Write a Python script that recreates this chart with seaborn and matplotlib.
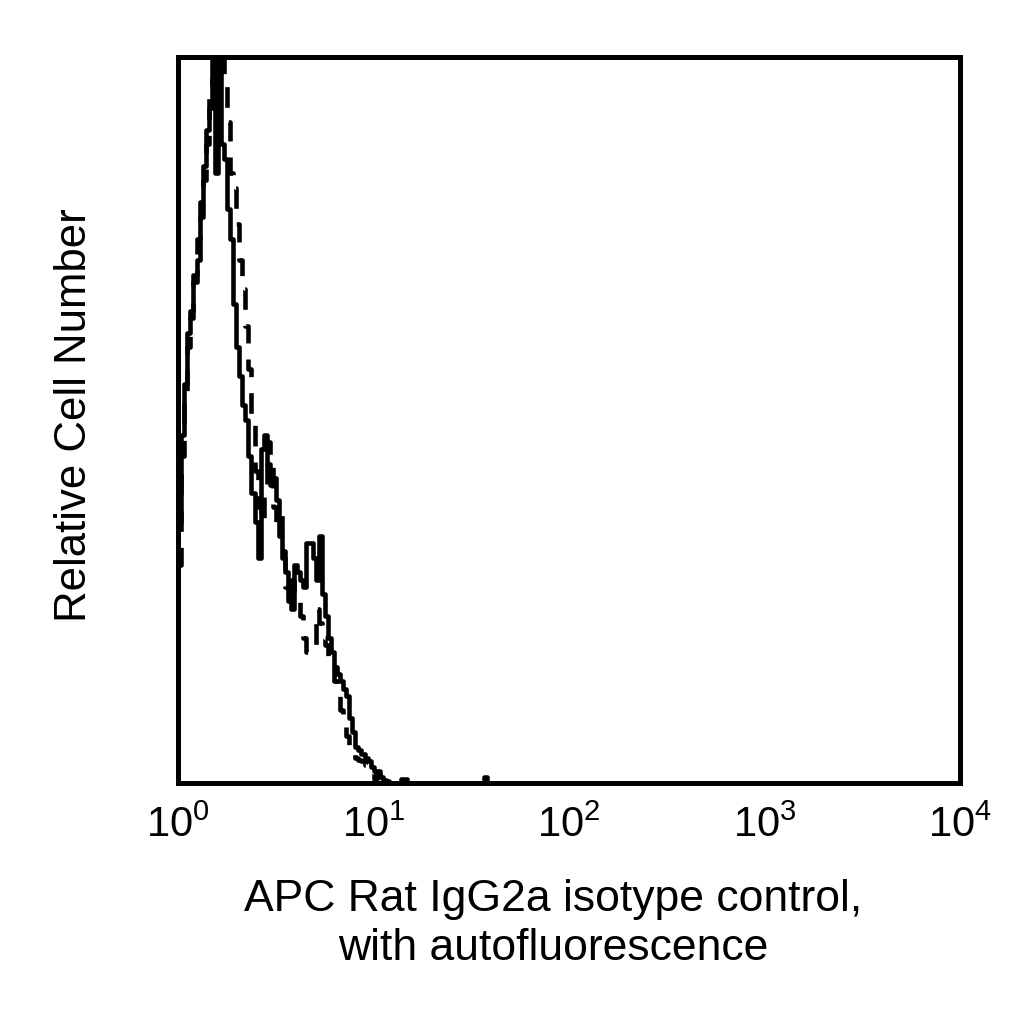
import numpy as np
import pandas as pd
import matplotlib
matplotlib.use("Agg")
import matplotlib.pyplot as plt
import seaborn as sns

# 256 channels over 4 log decades (10^0 .. 10^4)
n_channels = 256
decades = 4

# relative counts per channel (channel 0 upward)
solid_counts = [36, 48, 55, 62, 64, 70, 72, 80, 85, 90,
                93, 100, 84, 100, 88, 86, 79, 75, 66, 60,
                56, 52, 50, 45, 40, 36, 31, 46, 48, 44,
                41, 42, 39, 34, 31, 29, 27, 24, 30, 29,
                28, 27, 33, 33, 31, 28, 34, 26, 23, 20,
                18, 16, 15, 14, 13, 12, 9, 7, 5, 4.5,
                4, 3.5, 3, 2.2, 1.6, 1.6, 0.8, 0.4, 0.2, 0,
                0, 0, 0, 0.6, 0.6]
solid_extra = {100: 0.8}

dashed_counts = [30, 45, 53, 60, 65, 69, 75, 78, 83, 88,
                 95, 97, 100, 100, 100, 96, 91, 84, 82, 77,
                 72, 68, 63, 57, 50, 43, 38, 36, 41, 47,
                 44, 38, 36, 37, 32, 27, 25, 28, 26, 25,
                 23, 20, 18, 18, 19, 24, 22, 20, 19, 17,
                 16, 14, 12, 10, 8, 6.5, 5, 4, 3.5, 3.2,
                 3, 2.5, 2.0, 1.4, 0.6, 1.2, 0.5, 0.2]

tick_labels = ["$10^{0}$", "$10^{1}$", "$10^{2}$", "$10^{3}$", "$10^{4}$"]
x_label = "APC Rat IgG2a isotype control,\nwith autofluorescence"
y_label = "Relative Cell Number"


def to_frame(counts, extra):
    w = np.zeros(n_channels)
    w[:len(counts)] = counts
    for k, v in extra.items():
        w[k] = v
    centers = (np.arange(n_channels) + 0.5) * decades / n_channels
    return pd.DataFrame({"log_fl": centers, "count": w})


solid = to_frame(solid_counts, solid_extra)
dashed = to_frame(dashed_counts, {})

sns.set_style("white")
plt.rcParams["font.family"] = ["Liberation Sans", "DejaVu Sans"]
plt.rcParams["mathtext.fontset"] = "custom"
plt.rcParams["mathtext.rm"] = "Liberation Sans"
plt.rcParams["mathtext.it"] = "Liberation Sans"
plt.rcParams["text.color"] = "black"
plt.rcParams["axes.labelcolor"] = "black"
plt.rcParams["xtick.color"] = "black"

fig = plt.figure(figsize=(10.24, 10.24), dpi=100)
ax = fig.add_axes([0.174, 0.2354, 0.7637, 0.7089])

sns.histplot(data=solid, x="log_fl", weights="count", bins=n_channels,
             binrange=(0, decades), element="step", fill=False,
             color="black", linewidth=3.3, ax=ax)
sns.histplot(data=dashed, x="log_fl", weights="count", bins=n_channels,
             binrange=(0, decades), element="step", fill=False,
             color="black", linewidth=3.3, linestyle=(0, (4.5, 3.5)), ax=ax)

ax.set_xlim(0, decades)
ax.set_ylim(0, 100)
ax.set_xticks(range(decades + 1))
ax.set_xticklabels(tick_labels, fontsize=30)
ax.set_yticks([])
ax.tick_params(axis="x", length=0, pad=16)

ax.set_xlabel(x_label, fontsize=32, linespacing=1.22)
ax.xaxis.set_label_coords((553 - 178) / 782, -0.133, transform=ax.transAxes)
ax.xaxis.label.set_verticalalignment("top")
ax.set_ylabel(y_label, fontsize=31.5)
ax.yaxis.set_label_coords((74 - 178) / 782, (783 - 415) / 726, transform=ax.transAxes)
ax.yaxis.label.set_verticalalignment("center")

for s in ax.spines.values():
    s.set_linewidth(3.6)
    s.set_color("black")

fig.savefig("out.png", dpi=100)
